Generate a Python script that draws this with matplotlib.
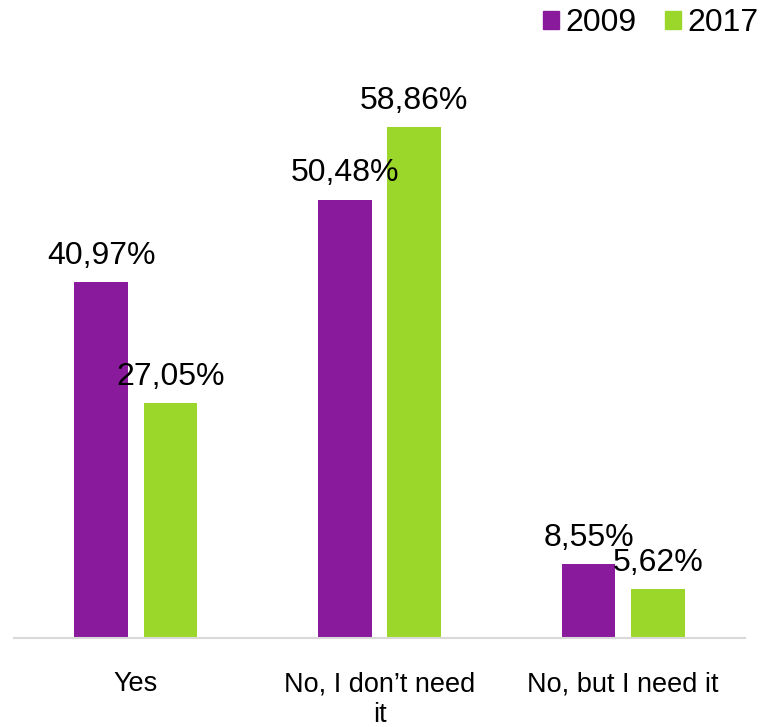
import matplotlib
matplotlib.use("Agg")
import matplotlib.pyplot as plt
import matplotlib.patches as mpatches
import numpy as np

plt.rcParams["font.family"] = ["Liberation Sans", "DejaVu Sans"]

categories = ["Yes", "No, I don\u2019t need\nit", "No, but I need it"]
series_names = ["2009", "2017"]
values_2009 = [40.97, 50.48, 8.55]
values_2017 = [27.05, 58.86, 5.62]

PURPLE = "#881A9B"
GREEN = "#9BD72A"

fig = plt.figure(figsize=(7.61, 7.27), dpi=100)
ax = fig.add_axes([14 / 761, 89 / 727, 731 / 761, 608 / 727])

x = np.arange(len(categories))
width = 0.22
offset = 0.142

bars_a = ax.bar(x - offset, values_2009, width, color=PURPLE)
bars_b = ax.bar(x + offset, values_2017, width, color=GREEN)

for bars, vals in [(bars_a, values_2009), (bars_b, values_2017)]:
    for bar, v in zip(bars, vals):
        ax.annotate(f"{v:.2f}%".replace(".", ","),
                    (bar.get_x() + bar.get_width() / 2, bar.get_height()),
                    xytext=(0, 8), textcoords="offset points",
                    ha="center", va="bottom", fontsize=23, color="black")

ax.set_xlim(-0.5, 2.5)
ax.set_ylim(0, 70)
ax.set_xticks(x)
ax.set_xticklabels(categories, fontsize=19.5, linespacing=1.25)
ax.tick_params(axis="x", length=0, pad=24)
ax.set_yticks([])
for s in ["top", "right", "left"]:
    ax.spines[s].set_visible(False)
ax.spines["bottom"].set_color("#d9d9d9")
ax.spines["bottom"].set_linewidth(1.5)

handles = [mpatches.Patch(color=PURPLE, label=series_names[0]),
           mpatches.Patch(color=GREEN, label=series_names[1])]
fig.legend(handles=handles, loc="upper right", bbox_to_anchor=(1.022, 1.015),
           ncol=2, frameon=False, fontsize=23, handlelength=0.5,
           handleheight=0.5, handletextpad=0.2, columnspacing=0.9,
           borderaxespad=0.2)

fig.savefig("out.png", dpi=100)
